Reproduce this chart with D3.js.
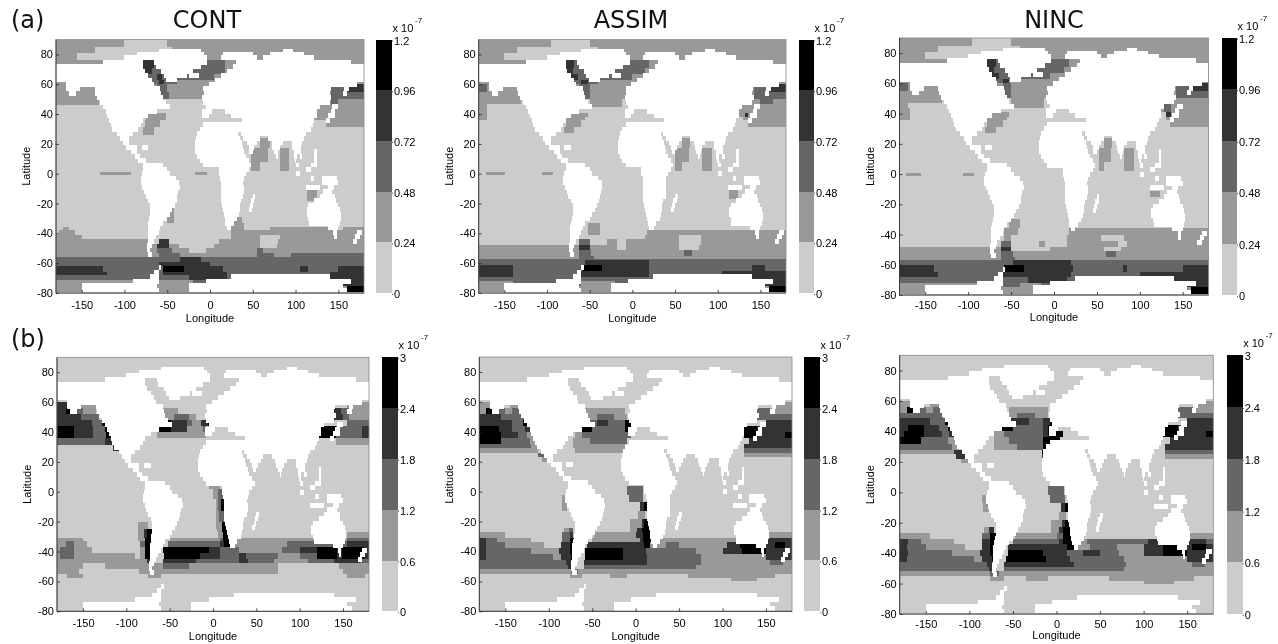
<!DOCTYPE html>
<html>
<head>
<meta charset="utf-8">
<title>CONT ASSIM NINC</title>
<script src="https://d3js.org/d3.v7.min.js"></script>
<style>
    body { margin:0; background:#fff; }
    svg { display:block; filter:blur(0.6px); }
    text { font-family:"Liberation Sans",Arial,sans-serif; font-size:11px; fill:#000; }
    .big { font-family:"DejaVu Sans",sans-serif; font-size:24px; fill:#111; }
    .axis path, .axis line { stroke:#222; stroke-width:0.8px; }
</style>
</head>
<body>
<script>
// contour levels, light to dark
const levelGreys = ["#cccccc","#999999","#666666","#333333","#000000"];
const lonTicks = [-150,-100,-50,0,50,100,150];
const latTicks = [-80,-60,-40,-20,0,20,40,60,80];
const barTicksA = [0,0.24,0.48,0.72,0.96,1.2];
const barTicksB = [0,0.6,1.2,1.8,2.4,3];

// land mask: [centre lat, lon from, lon to, lon from, lon to, ...], each row 3 deg tall
const landRows = [
[82,-60,-10,85,97],
[80,-85,-7,15,50,70,110],
[78,-100,-3,13,55,62,122],
[75,-125,-78,-65,-3,30,165],
[72,-180,-78,-63,-11,27,180],
[69,-180,-76,-57,-20,20,180],
[66,-180,-72,-54,-27,-24,-13,13,180],
[63,-180,-68,-51,-38,6,180],
[60,-168,-66,-1,172],
[57,-168,-152,-135,-58,-8,141,157,162],
[54,-165,-157,-134,-57,-7,140,155,160],
[51,-132,-55,-9,142],
[48,-128,-52,-8,140],
[45,-125,-47,-5,128,143,150],
[42,-122,-62,-9,2,17,125,141,146],
[39,-120,-72,-9,-1,25,125,138,146],
[36,-118,-78,37,122,135,140],
[33,-116,-81,-8,120],
[30,-114,-84,-12,118],
[27,-109,-90,-15,33,36,112],
[24,-105,-95,-16,35,39,58,68,110],
[21,-102,-95,-17,37,43,55,72,85,96,108],
[18,-98,-85,-80,-72,-17,38,45,52,73,82,96,106],
[15,-92,-85,-17,40,46,50,75,80,98,106,122,125],
[12,-88,-82,-15,42,77,79,98,102,105,108,122,125],
[9,-84,-75,-12,45,99,101,122,125],
[6,-78,-55,-8,48,100,104,118,125],
[3,-78,-50,10,45,112,118],
[0,-80,-47,10,42,100,105],
[-3,-81,-40,12,40,118,122,131,148],
[-6,-81,-36,13,39,131,150],
[-9,-79,-35,13,40,112,128,138,145],
[-12,-77,-37,13,40,132,143],
[-15,-75,-38,13,39,50,53,128,146],
[-18,-72,-39,13,36,48,52,122,147],
[-21,-70,-41,14,35,47,50,115,150],
[-24,-70,-44,15,35,45,49,113,152],
[-27,-70,-47,16,34,113,153],
[-30,-71,-50,17,32,115,153],
[-33,-72,-55,18,28,116,152],
[-36,-73,-58,20,25,138,150],
[-39,-73,-60,144,148,172,178],
[-42,-73,-63,145,148,170,175],
[-45,-73,-66,167,172],
[-48,-74,-68],
[-51,-74,-70],
[-54,-73,-68],
[-63,-60,-57],
[-66,-65,-60],
[-69,-70,-60,24,140],
[-72,-90,-60,-5,165],
[-75,-150,-62,-25,155],
[-78,-150,-60,-25,160],
[-81,-180,180]
];

// fields: [top lat, lon, level, lon, level, ...], each row runs down to the next row's lat
const contA = [
[90,-180,1,-100,0,-50,1],
[85,-180,1,-135,0,-45,1],
[81,-180,1,-155,0,-50,1],
[76,-180,1,-82,3,-66,2,-40,1,-20,2,18,1],
[71,-180,1,-80,3,-68,2,-30,2,18,1],
[67,-180,1,-76,2,-62,3,-56,2,5,1],
[63,-180,1,-70,2,-60,3,-54,2,-38,1],
[60,-180,1,-62,2,-50,1,142,2,157,3],
[55,-180,1,-62,2,-48,1,142,2,157,2],
[50,-180,1,-130,0,130,1,142,2,150,1],
[46,-180,0,125,1],
[41,-180,0,-75,1,-52,0,122,1],
[36,-180,0,-76,1,-58,0,135,1],
[31,-180,0,-78,1,-65,0],
[26,-180,0],
[24,-180,0,58,1,70,0],
[17,-180,0,48,1,68,0,82,1,92,0],
[8,-180,0,48,1,58,0,82,1,92,0],
[2,-180,0],
[1,-180,0,-128,1,-92,0,-17,1,-4,0],
[-1,-180,0],
[-11,-180,0,113,1,125,0],
[-18,-180,0,-52,1,-42,0],
[-29,-180,0,-50,1,-42,0,20,1,37,0],
[-33,-180,0,22,1,40,0],
[-36,-180,0,-172,1,-165,0,22,1,40,0,70,1,150,0,155,1],
[-38,-180,0,-176,1,-158,0,25,1],
[-41,-180,1,-150,0,25,1,58,0,82,1],
[-44,-180,1,-72,0,-60,3,-48,0,10,1,58,0,80,1],
[-47,-180,1,-62,3,-48,1,-36,0,5,1,58,0,78,1],
[-50,-180,1,-62,2,-45,1,-25,0,-5,1,55,2,62,1],
[-53,-180,1,-60,2,-35,1,55,2,75,1,95,2],
[-56,-180,2,-35,3,-10,2],
[-59,-180,2,-60,3,0,2],
[-62,-180,3,-125,2,-55,4,-30,3,15,2,105,3,115,2,150,3],
[-66,-180,3,-120,2,-55,3,20,2,140,3],
[-68,-180,2,-25,3,20,2,140,3],
[-71,-180,1,-20,2,150,3],
[-75,-180,1,160,4]
];
const assimA = [
[90,-180,1,-95,0,-50,1],
[85,-180,1,-135,0,-40,1],
[81,-180,1,-150,0,-50,1],
[76,-180,1,-82,3,-68,2,-40,2,20,1],
[71,-180,1,-78,3,-70,2,-30,2,15,1],
[67,-180,1,-74,3,-64,2,0,1],
[63,-180,1,-70,2,-60,3,-52,2,-40,1],
[60,-180,2,-170,1,-62,2,-50,1,142,2,157,3],
[55,-180,1,-62,2,-50,1,142,2,157,2],
[50,-180,1,-130,0,-50,1,-12,0,130,1,150,2,165,1],
[47,-180,1,-170,0,-50,1,-12,0,120,1],
[45,-180,1,-170,0,125,1],
[41,-180,1,-170,0,-75,1,-52,0,122,1,132,3,136,1],
[38,-180,1,-170,0,-78,1,-55,0,130,1],
[36,-180,0,-78,1,-60,0,135,1],
[31,-180,0,-80,1,-68,0],
[27,-180,0],
[24,-180,0,58,1,68,0],
[17,-180,0,50,1,66,0,82,1,93,0],
[8,-180,0,50,1,58,0,82,1,93,0],
[2,-180,0],
[1,-180,0,-172,1,-149,0,-106,1,-93,0],
[-1,-180,0],
[-10,-180,0,113,1,124,0],
[-17,-180,0],
[-33,-180,0,-52,1,-38,0],
[-38,-180,0,-52,1,-38,0,17,1],
[-41,-180,0,15,1,55,0,80,1],
[-44,-180,0,-62,2,-50,0,-30,1,-18,0,-7,1,55,0,80,1],
[-48,-180,1,-62,3,-50,1,-18,0,-7,1,55,0,78,1],
[-51,-180,1,-62,2,-48,1,60,2,70,1],
[-55,-180,1,-62,2,-45,1],
[-57,-180,2],
[-58,-180,2,-55,3,20,2],
[-61,-180,3,-140,2,-58,4,-35,3,20,2,140,3,155,2],
[-65,-180,3,-140,2,-60,3,20,2,105,3],
[-69,-180,2,-35,2,140,3],
[-72,-180,1,-140,2,-60,1,-20,2,150,3],
[-75,-180,1,160,4]
];
const nincA = [
[90,-180,1,-95,0,-50,1],
[85,-180,1,-135,0,-40,1],
[81,-180,1,-150,0,-50,1],
[76,-180,1,-82,3,-68,2,-40,2,18,1],
[71,-180,1,-78,3,-70,2,-30,2,12,1],
[67,-180,1,-74,3,-64,2,-5,1],
[63,-180,1,-70,2,-60,3,-52,1],
[60,-180,2,-170,1,-60,2,-50,1,142,2,157,3],
[55,-180,1,-60,2,-50,1,142,2,157,2],
[50,-180,1,-130,0,-50,1,-12,0,130,1,165,1],
[47,-180,1,-170,0,-50,1,-12,0,120,2,136,1],
[44,-180,1,-168,0,120,1,128,2,136,1],
[41,-180,1,-168,0,-75,1,-52,0,122,0,130,3,136,1],
[38,-180,1,-168,0,-78,1,-55,0,130,1],
[36,-180,0,-78,1,-60,0,135,1],
[31,-180,0,-80,1,-68,0],
[27,-180,0],
[24,-180,0,58,1,68,0],
[17,-180,0,52,1,66,0,82,1,93,0],
[8,-180,0,52,1,58,0,82,1,93,0],
[2,-180,0],
[1,-180,0,-172,1,-155,0,-106,1,-93,0],
[-1,-180,0],
[-11,-180,0,112,1,124,0],
[-15,-180,0],
[-30,-180,0,-52,1,-40,0],
[-36,-180,0,-58,1,-42,0,17,1],
[-40,-180,0,-58,1,-50,0,15,1,55,0,82,1],
[-44,-180,0,-62,2,-50,0,-18,1,-10,0,15,1,55,1,75,0,85,1],
[-48,-180,1,-62,3,-50,0,-18,0,-5,1,58,0,78,1],
[-51,-180,1,-62,2,-48,1,60,2,72,1],
[-55,-180,1,-62,2,-45,1],
[-57,-180,2,-48,3,20,2],
[-60,-180,3,-140,2,-58,4,-35,3,22,2,80,3,85,2,150,3],
[-65,-180,3,-135,2,-60,3,20,2,100,3],
[-68,-180,2,-30,3,15,2,130,3],
[-72,-180,1,-130,1,-60,2,-40,1,-15,2,150,3],
[-75,-180,1,160,4]
];
const contB = [
[90,-180,0],
[60,-180,3,-168,0,-153,1,-135,0,155,1],
[56,-180,3,-170,4,-160,2,-150,1,-135,0,-58,1,-40,0,140,3,148,2,157,1],
[52,-180,3,-152,2,-132,0,-55,1,-45,2,-28,1,-20,0,140,3,150,2,157,1],
[48,-180,3,-140,2,-128,4,-48,3,-30,2,-24,1,-14,3,-6,4,100,0,155,2],
[44,-180,4,-160,3,-138,2,-125,4,-62,4,-48,3,-30,1,-12,2,-8,0,120,4,142,2,172,3],
[40,-180,4,-160,3,-138,2,-123,4,-116,0,-65,1,-8,0,120,4,142,2,172,3],
[36,-180,2,-125,3,-112,0,142,1],
[31,-180,0,-115,3,-105,0],
[27,-180,0],
[6,-180,0,-5,1,8,0],
[2,-180,0,0,1,6,2,12,0],
[-5,-180,0,3,1,6,2,9,4,15,0],
[-13,-180,0,3,1,7,2,13,0],
[-20,-180,0,-86,1,-75,0,4,1,10,4,16,0],
[-25,-180,0,-86,1,-80,3,-76,4,-70,0,5,1,10,4,18,0],
[-27,-180,0,-86,1,-80,3,-76,4,-68,0,6,1,11,4,18,0,155,1],
[-31,-180,1,-150,0,-86,1,-78,4,-68,0,-50,1,8,2,12,4,24,1,155,2],
[-33,-180,1,-170,2,-160,1,-145,0,-84,2,-78,4,-68,0,-52,2,8,3,13,4,22,1,85,2,155,3],
[-37,-180,1,-176,2,-160,1,-140,0,-84,1,-78,4,-70,0,-58,4,-5,3,8,2,22,2,30,1,80,2,100,3,120,4,143,3,149,4,174,3],
[-41,-180,1,-176,2,-160,1,-90,0,-84,1,-78,4,-70,0,-56,4,-15,3,8,2,30,3,38,2,75,1,100,2,120,4,143,3,149,4,174,3],
[-45,-180,1,-76,3,-70,0,-58,3,-20,2,30,3,40,2,70,1,110,2,140,3,170,2],
[-48,-180,1,-150,0,-125,1,-58,2,-28,1,75,0,145,1],
[-52,-180,1,-155,0,-85,1,75,0,150,1],
[-55,-180,0,-168,1,-150,0,-75,1,-60,0,155,1,175,0],
[-58,-180,0]
];
const assimB = [
[90,-180,0],
[60,-180,1,-168,0,-145,1,-130,0,160,1],
[56,-180,1,-172,4,-165,2,-150,1,-142,2,-130,0,-58,1,-12,0,140,2,155,1],
[52,-180,3,-155,2,-128,0,-56,1,-45,2,-25,1,-10,0,140,2],
[48,-180,3,-142,2,-130,4,-122,0,-56,2,-45,3,-32,2,-12,4,120,0,150,3],
[44,-180,4,-157,3,-142,2,-127,3,-118,0,-65,4,-50,2,-12,4,-5,0,125,4,140,3],
[40,-180,4,-155,3,-135,2,-125,1,-117,0,-70,1,-62,2,-12,2,-5,0,125,4,140,3,172,4],
[36,-180,4,-155,2,-122,1,-112,0,-72,1,-52,2,-10,0,130,3],
[32,-180,2,-120,1,-112,0,-72,1,-12,0,125,3],
[29,-180,1,-112,0,-70,1,-12,0,125,2],
[26,-180,0,-112,2,-100,0,125,1],
[23,-180,0,-108,1,-98,0],
[20,-180,0],
[4,-180,0,-10,2,9,0],
[-2,-180,0,-85,1,-79,0,-8,2,8,0],
[-7,-180,0,-85,1,-79,0,5,3,10,4,15,0],
[-13,-180,0,3,1,11,0],
[-18,-180,0,-6,1,7,3,10,4,20,0],
[-24,-180,0,-83,1,-77,2,-72,0,-6,1,2,3,7,4,18,0],
[-27,-180,1,-150,0,-85,2,-76,3,-72,0,-48,1,0,3,8,4,18,0,152,1],
[-31,-180,3,-172,2,-160,1,-120,0,-85,2,-76,4,-65,0,-50,1,5,3,8,4,20,1,150,3],
[-34,-180,3,-172,2,-150,1,-105,0,-86,3,-76,4,-65,0,-56,3,10,4,17,1,35,2,50,1,105,3,120,4,147,3,160,4,172,3],
[-38,-180,3,-172,2,-120,1,-88,3,-76,4,-67,0,-58,4,-14,3,12,2,70,1,100,3,122,4,150,3],
[-42,-180,3,-172,2,-95,1,-86,3,-74,4,-67,0,-58,4,-14,3,13,2,75,1,150,3],
[-46,-180,2,-80,3,-74,0,-60,3,13,2,75,1,155,2,170,1],
[-49,-180,2,-78,3,-70,0,-60,2,70,1],
[-52,-180,1,-74,2,-66,1],
[-55,-180,0,-76,1,-62,0,-30,1,-10,0,60,1,160,0],
[-58,-180,0,110,1,140,0],
[-60,-180,0]
];
const nincB = [
[90,-180,0],
[60,-180,1,-168,0,-145,1,-130,0,162,1],
[56,-180,1,-172,4,-165,2,-150,1,-142,2,-128,0,-55,1,-10,0,140,2,158,1],
[52,-180,2,-130,0,-55,1,-45,2,-25,1,-10,0,140,2],
[49,-180,3,-145,2,-128,4,-120,0,-52,3,-32,2,-15,3,-8,4,100,0,150,3],
[44,-180,3,-170,4,-152,3,-135,2,-125,4,-118,0,-62,4,-50,2,-15,3,-10,4,-3,0,122,4,140,3],
[40,-180,3,-175,4,-152,3,-132,2,-123,3,-116,0,-72,1,-60,2,-16,3,-10,4,8,0,122,4,140,3,172,4],
[36,-180,4,-155,2,-125,1,-115,0,-72,1,-55,2,-16,4,4,0,130,3],
[32,-180,2,-120,1,-112,0,-72,1,-45,2,-16,4,-9,0,125,3],
[28,-180,1,-118,3,-108,0,-17,4,-12,0,125,2],
[25,-180,0,-115,3,-105,0,-17,3,-12,0,125,1],
[22,-180,0,-110,1,-102,0],
[19,-180,0],
[4,-180,0,-10,2,9,0],
[-2,-180,0,-85,1,-80,0,-8,2,10,0],
[-7,-180,0,-84,1,-78,0,5,3,10,4,15,0],
[-13,-180,0,3,1,11,0],
[-18,-180,0,-6,1,6,3,10,4,20,0],
[-23,-180,0,-83,1,-77,3,-72,0,-6,1,3,3,8,4,18,0],
[-27,-180,1,-145,0,-85,2,-76,4,-68,0,-48,1,0,2,8,4,18,0,150,1],
[-31,-180,3,-170,2,-155,1,-118,0,-85,3,-76,4,-65,0,-50,2,3,3,8,4,22,1,35,2,105,3,172,2],
[-34,-180,3,-172,2,-150,1,-105,0,-86,3,-76,4,-65,0,-56,3,5,3,12,4,22,1,38,2,70,1,100,3,122,4,147,3,155,4,172,3],
[-38,-180,3,-170,2,-120,1,-88,3,-76,4,-67,0,-56,4,-15,3,12,2,30,3,50,2,72,1,100,3,122,4,150,3],
[-42,-180,3,-172,2,-95,1,-86,3,-74,4,-67,0,-58,4,-12,3,15,2,78,1,150,3],
[-46,-180,2,-80,3,-74,0,-60,3,20,2,80,1,155,2,170,1],
[-49,-180,2,-78,3,-70,0,-60,2,78,1],
[-52,-180,1,-76,2,-66,1],
[-55,-180,0,-76,1,-60,0,-35,1,-10,0,60,1,158,0],
[-58,-180,0,100,1,135,0],
[-60,-180,0]
];

const svg = d3.select("body").append("svg").attr("width",1278).attr("height",644);

// boxes: plot left/right/top/bottom, bar left/right, tick and label offsets
const panels = [
    {rows:contA,  ticks:barTicksA, x0:56,  x1:364,  y0:39.5, y1:293,   b0:376,  b1:392,   pad:8, lab:29},
    {rows:assimA, ticks:barTicksA, x0:478.7,x1:786, y0:39.5, y1:293,   b0:799,  b1:814,   pad:8, lab:29},
    {rows:nincA,  ticks:barTicksA, x0:899.5,x1:1208.5,y0:38, y1:295,   b0:1222, b1:1237,  pad:6, lab:26},
    {rows:contB,  ticks:barTicksB, x0:57,  x1:369,  y0:357.3,y1:611.3, b0:382,  b1:398,   pad:8, lab:29},
    {rows:assimB, ticks:barTicksB, x0:479.3,x1:792, y0:357,  y1:611.3, b0:804.3,b1:820,   pad:8, lab:29},
    {rows:nincB,  ticks:barTicksB, x0:899.7,x1:1213.3,y0:355.3,y1:614, b0:1227, b1:1242.7,pad:6, lab:25}
];

panels.forEach((p,i) => {
    let x = d3.scaleLinear().domain([-180,180]).range([p.x0,p.x1]);
    let y = d3.scaleLinear().domain([-80,90]).range([p.y1,p.y0]);
    let clipId = "clip"+i;
    svg.append("clipPath").attr("id",clipId).append("rect")
        .attr("x",p.x0).attr("y",p.y0).attr("width",p.x1-p.x0).attr("height",p.y1-p.y0);
    let map = svg.append("g").attr("clip-path","url(#"+clipId+")").attr("shape-rendering","crispEdges");

    // field rows to cells
    let cells = [];
    p.rows.forEach((r,k) => {
        let next = k+1<p.rows.length ? p.rows[k+1][0] : -82;
        for (let j=1;j<r.length;j+=2) {
            cells.push({lat0:r[0],lat1:next,lon0:r[j],lon1:j+2<r.length?r[j+2]:180,level:r[j+1]});
        }
    });
    map.selectAll("rect.cell").data(cells).join("rect")
        .attr("class","cell")
        .attr("x",d => x(d.lon0))
        .attr("y",d => y(d.lat0))
        .attr("width",d => x(d.lon1)-x(d.lon0)+0.5)
        .attr("height",d => y(d.lat1)-y(d.lat0)+0.5)
        .attr("fill",d => levelGreys[d.level]);

    let land = [];
    landRows.forEach(r => {
        for (let j=1;j<r.length;j+=2) land.push({lat:r[0],lon0:r[j],lon1:r[j+1]});
    });
    map.selectAll("rect.land").data(land).join("rect")
        .attr("class","land")
        .attr("x",d => x(d.lon0))
        .attr("y",d => y(d.lat+1.5))
        .attr("width",d => x(d.lon1)-x(d.lon0))
        .attr("height",d => y(d.lat-1.5)-y(d.lat+1.5)+0.5)
        .attr("fill","#fff");

    svg.append("rect").attr("x",p.x0).attr("y",p.y0)
        .attr("width",p.x1-p.x0).attr("height",p.y1-p.y0)
        .attr("fill","none").attr("stroke","#888").attr("stroke-width",0.8);

    svg.append("g").attr("class","axis").attr("transform","translate(0,"+p.y1+")")
        .call(d3.axisBottom(x).tickValues(lonTicks).tickSize(-3).tickPadding(p.pad).tickFormat(String))
        .call(g => g.select(".domain").attr("d","M"+p.x0+",0H"+p.x1));
    svg.append("g").attr("class","axis").attr("transform","translate("+p.x0+",0)")
        .call(d3.axisLeft(y).tickValues(latTicks).tickSize(-3).tickPadding(3).tickFormat(String))
        .call(g => g.select(".domain").attr("d","M0,"+p.y0+"V"+p.y1));

    svg.append("text").attr("x",(p.x0+p.x1)/2).attr("y",p.y1+p.lab).attr("text-anchor","middle").text("Longitude");
    svg.append("text").attr("transform","translate("+(p.x0-26)+","+(p.y0+p.y1)/2+") rotate(-90)")
        .attr("text-anchor","middle").text("Latitude");

    // colour bar
    let bar = d3.scaleLinear().domain([0,p.ticks[p.ticks.length-1]]).range([p.y1,p.y0]);
    svg.append("g").attr("shape-rendering","crispEdges").selectAll("rect")
        .data(p.ticks.slice(0,-1)).join("rect")
        .attr("x",p.b0).attr("width",p.b1-p.b0)
        .attr("y",(d,k) => bar(p.ticks[k+1]))
        .attr("height",(d,k) => bar(p.ticks[k])-bar(p.ticks[k+1]))
        .attr("fill",(d,k) => levelGreys[k]);
    svg.append("g").attr("class","axis").attr("transform","translate("+p.b1+",1)")
        .call(d3.axisRight(bar).tickValues(p.ticks).tickSize(1).tickPadding(1).tickFormat(String))
        .call(g => g.select(".domain").remove());
    svg.append("text").attr("x",p.b1+0.5).attr("y",p.y0-8).text("x 10");
    svg.append("text").attr("x",p.b1+23).attr("y",p.y0-17).style("font-size","8px").text("-7");
});

const columnTitles = ["CONT","ASSIM","NINC"];
const columnCentres = [207,631,1054];
svg.selectAll("text.title").data(columnTitles).join("text")
    .attr("class","title big").attr("x",(d,i) => columnCentres[i]).attr("y",28)
    .attr("text-anchor","middle").text(d => d);
svg.append("text").attr("class","big").attr("x",11).attr("y",28).text("(a)");
svg.append("text").attr("class","big").attr("x",11).attr("y",347).text("(b)");
</script>
</body>
</html>
